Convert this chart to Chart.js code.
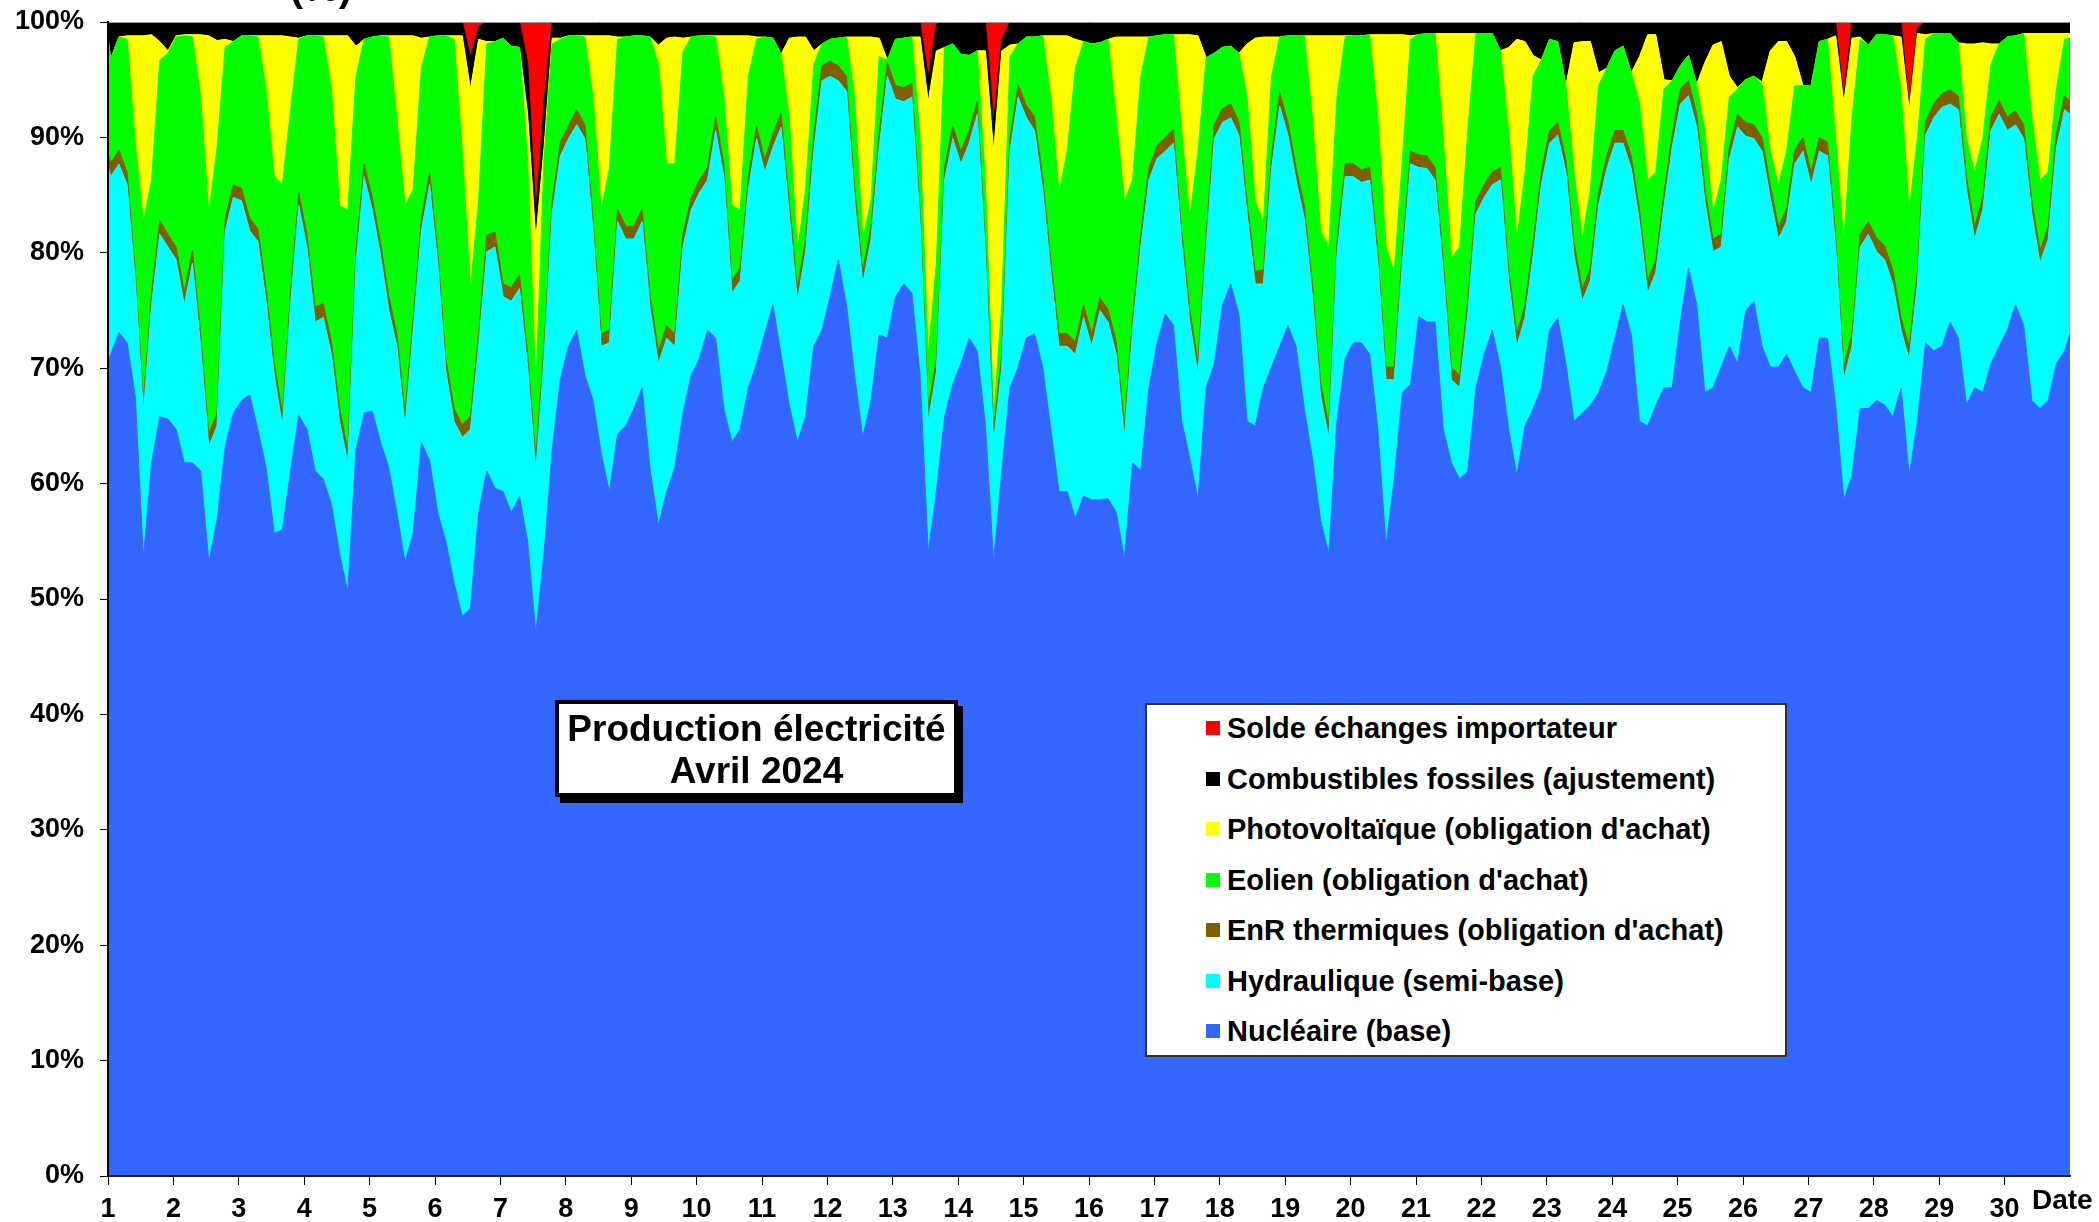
<!DOCTYPE html>
<html lang="fr">
<head>
<meta charset="UTF-8">
<title>Production électricité - Avril 2024</title>
<script src="https://cdn.jsdelivr.net/npm/chart.js@4.4.1/dist/chart.umd.min.js"></script>
<style>
    body { margin: 0; background: #fff; font-family: 'Liberation Sans', Arial, sans-serif; }
    #wrap { position: relative; width: 2099px; height: 1222px; overflow: hidden; }
    #c { position: absolute; left: 0; top: 0; }
    .txt { position: absolute; font-weight: bold; color: #000; white-space: nowrap; }
    #ytitle { font-size: 40px; line-height: 40px; right: 1747px; top: -33px; }
    #date { font-size: 28px; line-height: 28px; left: 2032px; top: 1186px; }
    #titlebox {
        position: absolute; left: 555px; top: 700px; width: 403px; height: 97px;
        box-sizing: border-box; border: 4px solid #000; background: #fff;
        box-shadow: 5px 6px 0 #000; text-align: center;
        font-weight: bold; font-size: 37px; line-height: 42px; padding-top: 4px;
    }
    #legend {
        position: absolute; left: 1145px; top: 703px; width: 642px; height: 354px;
        box-sizing: border-box; border: 2px solid #333; background: #fff;
    }
    .row { position: absolute; left: 1145px; height: 50px; line-height: 50px; font-size: 29px; font-weight: bold; white-space: nowrap; }
    .sq { position: absolute; width: 14px; height: 14px; }
</style>
</head>
<body>
<div id="wrap">
    <canvas id="c" width="2099" height="1222"></canvas>
    <div id="ytitle" class="txt">(%)</div>
    <div id="date" class="txt">Date</div>
    <div id="titlebox">Production électricité<br>Avril 2024</div>
    <div id="legend"></div>
</div>

<script>
// sample times: hour 0, then 8 readings a day (1h, 4h, ... 22h), then end of the month
var sampleHours = [1, 4, 7, 10, 13, 16, 19, 22];
var dayLabels = ['1','2','3','4','5','6','7','8','9','10','11','12','13','14','15','16','17','18','19','20','21','22','23','24','25','26','27','28','29','30'];
var yTickLabels = ['0%','10%','20%','30%','40%','50%','60%','70%','80%','90%','100%'];

// cumulative share (%) at the top of each band
var topNucleaire = [70.4,
    71.2, 73.1, 72.2, 67.6, 53.5, 61.8, 65.8, 65.6,
    64.7, 61.8, 61.8, 61.1, 53.2, 56.8, 63.2, 66.1,
    67.2, 67.7, 64.7, 61.4, 55.7, 56.0, 61.1, 65.9,
    64.7, 61.1, 60.4, 58.2, 53.9, 50.6, 62.9, 66.1,
    66.3, 63.6, 61.4, 57.5, 53.2, 55.7, 63.6, 62.0,
    57.5, 55.0, 51.4, 48.5, 49.2, 57.5, 61.1, 59.6,
    59.3, 57.5, 58.9, 55.0, 47.0, 53.9, 62.9, 69.0,
    71.9, 73.3, 69.4, 67.2, 62.6, 59.3, 64.3, 65.0,
    66.5, 68.3, 61.1, 56.4, 59.3, 61.4, 66.1, 69.4,
    70.8, 73.3, 72.6, 66.5, 63.6, 64.7, 68.3, 70.4,
    73.0, 75.5, 71.2, 66.8, 63.6, 65.8, 71.9, 73.3,
    76.2, 79.4, 75.5, 69.4, 64.0, 67.2, 72.9, 72.6,
    76.2, 77.3, 76.5, 69.4, 54.0, 59.3, 65.8, 68.6,
    70.4, 72.6, 71.5, 65.0, 53.2, 61.1, 68.3, 70.1,
    72.6, 73.0, 70.1, 64.7, 59.3, 59.3, 57.0, 58.9,
    58.6, 58.6, 58.7, 57.5, 53.5, 61.8, 61.1, 68.3,
    72.2, 74.7, 73.7, 65.4, 62.2, 58.6, 68.3, 70.4,
    75.5, 77.3, 74.7, 65.4, 65.0, 68.3, 70.1, 71.9,
    73.7, 71.9, 66.5, 62.2, 56.8, 53.9, 65.4, 70.8,
    72.2, 72.2, 71.2, 64.7, 54.6, 60.4, 67.9, 68.6,
    74.5, 74.0, 74.0, 64.7, 61.8, 60.4, 61.1, 68.3,
    71.2, 73.3, 70.1, 64.7, 60.7, 65.0, 66.5, 68.3,
    73.3, 74.4, 70.4, 65.4, 66.1, 66.8, 67.9, 69.7,
    72.6, 75.5, 72.9, 65.4, 65.0, 66.8, 68.3, 68.3,
    74.0, 78.7, 75.5, 67.9, 68.3, 70.1, 71.9, 70.4,
    75.0, 75.8, 71.9, 70.1, 70.1, 71.2, 69.7, 68.3,
    67.9, 72.6, 72.6, 66.8, 58.6, 60.7, 66.5, 66.5,
    67.2, 66.8, 65.8, 68.3, 60.7, 65.4, 72.2, 71.5,
    71.9, 74.0, 72.6, 66.8, 68.3, 67.9, 70.4, 71.9,
    73.3, 75.5, 73.7, 67.2, 66.5, 67.2, 70.4, 71.5,
    72.9];

var topHydraulique = [87.5,
    86.6, 87.7, 85.9, 77.6, 66.1, 75.5, 81.6, 80.5,
    79.4, 75.5, 79.1, 71.9, 63.2, 65.0, 81.9, 84.8,
    84.5, 81.9, 81.0, 75.8, 69.4, 65.0, 75.5, 84.1,
    80.5, 74.0, 74.4, 71.2, 65.4, 61.8, 79.1, 86.6,
    83.7, 79.8, 75.1, 71.9, 65.0, 73.3, 81.9, 85.9,
    79.1, 69.7, 65.4, 64.0, 64.7, 71.9, 80.1, 80.5,
    76.2, 75.8, 76.9, 70.1, 61.1, 70.8, 83.4, 88.4,
    89.9, 91.1, 89.9, 81.9, 71.9, 72.2, 82.7, 81.2,
    81.2, 82.7, 75.1, 70.4, 72.6, 71.9, 80.5, 83.7,
    85.2, 86.3, 90.6, 86.6, 76.5, 77.6, 85.5, 89.9,
    87.0, 89.1, 90.9, 83.4, 75.8, 80.1, 88.8, 94.9,
    95.3, 94.9, 94.0, 84.5, 77.3, 81.2, 89.1, 95.3,
    93.3, 93.1, 93.5, 82.7, 65.4, 69.7, 86.3, 89.9,
    87.7, 89.5, 92.0, 79.8, 63.6, 70.1, 88.8, 93.5,
    91.7, 90.6, 85.5, 78.3, 71.9, 71.9, 71.2, 74.4,
    71.9, 75.0, 74.0, 71.2, 64.0, 73.3, 80.5, 86.3,
    88.2, 88.8, 89.5, 80.9, 74.0, 69.4, 80.5, 89.9,
    91.3, 91.7, 90.2, 83.4, 77.3, 77.3, 87.3, 92.7,
    90.2, 86.3, 83.0, 76.2, 67.6, 64.0, 79.8, 86.6,
    86.6, 86.1, 86.3, 79.1, 69.0, 69.0, 79.1, 87.7,
    87.4, 87.3, 86.3, 78.3, 69.0, 68.3, 74.7, 83.4,
    84.8, 85.9, 86.3, 77.6, 71.9, 74.4, 79.8, 85.9,
    89.5, 90.2, 87.0, 79.8, 75.8, 77.6, 84.1, 87.3,
    89.5, 89.5, 87.3, 82.7, 76.5, 78.3, 84.1, 89.1,
    92.9, 93.6, 90.9, 84.5, 80.1, 80.5, 88.1, 90.9,
    90.1, 89.9, 88.8, 84.8, 81.2, 82.7, 87.7, 88.8,
    85.9, 88.8, 88.4, 80.5, 69.0, 71.9, 80.5, 81.6,
    80.1, 79.4, 77.3, 73.3, 70.8, 77.3, 90.2, 91.7,
    92.6, 92.9, 92.4, 85.5, 81.2, 83.7, 90.6, 92.0,
    90.6, 91.1, 89.9, 83.4, 79.1, 81.2, 89.1, 92.4,
    92.0];

var topEnrThermiques = [88.7,
    87.8, 88.9, 87.0, 78.6, 67.1, 76.6, 82.8, 81.6,
    80.5, 76.6, 80.2, 73.0, 64.3, 66.1, 83.0, 85.9,
    85.6, 83.0, 82.1, 76.9, 70.5, 66.1, 76.6, 85.2,
    81.6, 75.3, 75.6, 72.3, 66.5, 62.9, 80.2, 87.7,
    84.8, 80.9, 76.3, 73.0, 66.1, 74.4, 83.0, 87.0,
    80.2, 70.8, 66.5, 65.1, 65.8, 73.0, 81.5, 81.8,
    77.3, 77.0, 78.1, 71.2, 62.3, 71.9, 84.5, 89.6,
    91.0, 92.4, 91.1, 83.0, 73.0, 73.3, 83.8, 82.3,
    82.3, 83.8, 76.2, 71.5, 73.7, 73.0, 81.6, 84.8,
    86.3, 87.4, 91.8, 87.7, 77.6, 78.7, 86.6, 91.0,
    88.1, 90.3, 92.1, 84.5, 76.9, 81.2, 90.1, 96.2,
    96.6, 96.2, 95.3, 85.7, 78.4, 82.3, 90.3, 96.5,
    94.5, 94.3, 94.7, 83.8, 66.5, 70.8, 87.4, 91.0,
    88.8, 90.6, 93.1, 80.9, 64.7, 71.2, 89.9, 94.6,
    92.8, 91.8, 86.6, 79.4, 73.0, 73.0, 72.3, 75.5,
    73.0, 76.1, 75.1, 72.3, 65.1, 74.4, 81.6, 87.4,
    89.3, 90.0, 90.7, 82.0, 75.1, 70.5, 81.6, 91.1,
    92.5, 92.9, 91.4, 84.5, 78.4, 78.5, 88.5, 93.9,
    91.3, 87.4, 84.1, 77.3, 68.7, 65.1, 80.9, 87.7,
    87.7, 87.2, 87.4, 80.2, 70.1, 70.1, 80.2, 88.8,
    88.5, 88.4, 87.4, 79.4, 70.1, 69.4, 75.8, 84.5,
    85.9, 87.0, 87.4, 78.7, 73.0, 75.5, 80.9, 87.0,
    90.6, 91.3, 88.1, 80.9, 76.9, 78.7, 85.2, 88.4,
    90.6, 90.6, 88.4, 83.8, 77.6, 79.4, 85.2, 90.2,
    94.2, 94.9, 92.1, 85.6, 81.2, 81.6, 89.2, 92.0,
    91.3, 91.1, 90.0, 85.9, 82.3, 83.8, 88.9, 90.0,
    87.0, 90.0, 89.6, 81.6, 70.1, 73.0, 81.6, 82.7,
    81.3, 80.6, 78.5, 74.4, 71.9, 78.4, 91.4, 92.9,
    93.8, 94.1, 93.6, 86.6, 82.3, 84.8, 91.8, 93.2,
    91.8, 92.3, 91.1, 84.5, 80.2, 82.3, 90.3, 93.6,
    93.2];

var topEolien = [98.5,
    96.8, 98.7, 98.5, 89.5, 82.7, 86.3, 96.7, 97.3,
    98.7, 98.8, 98.7, 93.5, 83.4, 89.1, 97.8, 98.3,
    98.8, 98.8, 98.7, 94.2, 86.6, 85.9, 92.4, 98.5,
    98.8, 98.8, 98.7, 94.2, 84.1, 83.7, 95.3, 98.5,
    98.7, 98.8, 98.7, 91.7, 84.1, 85.5, 96.0, 98.7,
    98.8, 98.8, 98.5, 88.8, 76.9, 84.5, 98.1, 98.3,
    98.6, 97.9, 97.8, 88.0, 68.3, 88.0, 98.1, 98.5,
    98.8, 98.8, 98.7, 93.5, 83.7, 87.3, 98.5, 98.7,
    98.8, 98.8, 98.7, 96.3, 87.7, 87.7, 97.4, 98.7,
    98.8, 98.8, 98.7, 93.5, 84.1, 83.7, 95.3, 98.5,
    98.7, 98.6, 97.2, 91.7, 80.1, 85.5, 96.3, 98.1,
    98.5, 98.6, 98.7, 93.5, 81.2, 84.5, 97.0, 96.7,
    98.5, 98.6, 98.7, 89.9, 71.2, 79.1, 97.8, 98.1,
    97.2, 97.1, 97.5, 86.0, 65.8, 75.5, 97.0, 98.1,
    98.7, 98.7, 98.8, 93.5, 85.2, 88.8, 96.0, 98.3,
    98.1, 98.2, 98.5, 91.7, 84.5, 86.3, 95.3, 98.7,
    98.8, 98.9, 98.9, 90.6, 83.0, 88.8, 96.9, 97.3,
    97.8, 97.9, 97.3, 93.5, 84.5, 82.7, 95.3, 98.7,
    98.8, 98.8, 98.8, 91.7, 81.9, 80.5, 93.5, 98.7,
    98.8, 98.8, 98.9, 91.7, 80.5, 78.3, 88.1, 98.5,
    98.9, 99.0, 99.0, 89.9, 79.5, 80.5, 90.6, 99.0,
    99.0, 99.0, 97.5, 90.6, 81.2, 86.9, 95.3, 96.7,
    98.5, 98.3, 94.5, 87.0, 81.2, 85.5, 94.5, 96.0,
    97.5, 97.9, 95.6, 93.0, 86.3, 87.0, 94.2, 94.9,
    96.2, 97.1, 94.6, 90.6, 83.4, 86.3, 93.5, 94.2,
    95.0, 95.3, 94.6, 88.8, 85.9, 88.8, 94.5, 94.5,
    94.5, 98.3, 98.5, 89.9, 80.9, 91.7, 98.5, 98.0,
    98.9, 98.9, 98.8, 94.0, 83.7, 89.9, 98.5, 99.0,
    99.0, 99.0, 98.2, 89.9, 87.0, 89.9, 96.3, 98.1,
    98.7, 98.8, 99.0, 91.7, 86.3, 87.0, 94.2, 98.5,
    98.6];

var topPhotovoltaique = [98.6,
    96.8, 98.7, 98.8, 98.8, 98.8, 98.9, 98.3, 97.5,
    98.8, 98.9, 98.9, 98.9, 98.8, 98.4, 98.5, 98.3,
    98.8, 98.8, 98.8, 98.8, 98.8, 98.8, 98.7, 98.6,
    98.8, 98.8, 98.8, 98.8, 98.8, 98.8, 97.9, 98.5,
    98.7, 98.8, 98.8, 98.8, 98.8, 98.8, 98.6, 98.7,
    98.8, 98.8, 98.8, 98.8, 94.2, 98.5, 98.3, 98.3,
    98.6, 97.9, 97.8, 92.0, 81.2, 89.1, 98.6, 98.6,
    98.8, 98.8, 98.8, 98.8, 98.8, 98.8, 98.7, 98.7,
    98.8, 98.8, 98.7, 98.0, 98.6, 98.7, 98.6, 98.7,
    98.8, 98.8, 98.8, 98.8, 98.8, 98.8, 98.8, 98.7,
    98.7, 98.6, 97.2, 98.6, 98.7, 98.7, 97.5, 98.1,
    98.5, 98.6, 98.7, 98.7, 98.7, 98.7, 98.6, 96.7,
    98.5, 98.6, 98.7, 98.7, 93.1, 97.5, 97.8, 98.1,
    97.2, 97.1, 97.5, 97.5, 88.8, 97.5, 98.0, 98.1,
    98.7, 98.7, 98.8, 98.8, 98.8, 98.8, 98.5, 98.3,
    98.1, 98.2, 98.5, 98.7, 98.7, 98.7, 98.7, 98.7,
    98.8, 98.9, 98.9, 98.9, 98.9, 98.8, 96.9, 97.3,
    97.8, 97.9, 97.3, 98.1, 98.6, 98.7, 98.7, 98.7,
    98.8, 98.8, 98.8, 98.8, 98.8, 98.8, 98.8, 98.8,
    98.8, 98.8, 98.9, 98.9, 98.9, 98.9, 98.9, 98.8,
    98.9, 99.0, 99.0, 99.0, 99.0, 99.0, 99.0, 99.0,
    99.0, 99.0, 97.5, 97.8, 98.5, 98.3, 97.1, 96.7,
    98.5, 98.3, 94.5, 98.2, 98.3, 98.3, 95.6, 96.0,
    97.5, 97.9, 95.6, 97.0, 98.9, 98.9, 95.0, 94.9,
    96.2, 97.1, 94.6, 96.5, 98.0, 98.3, 95.3, 94.3,
    95.0, 95.3, 94.8, 97.5, 98.3, 98.3, 97.0, 94.5,
    94.5, 98.3, 98.5, 98.8, 93.0, 98.6, 98.7, 98.0,
    98.9, 98.9, 98.8, 98.7, 92.4, 99.0, 98.9, 99.0,
    99.0, 99.0, 98.2, 98.1, 98.1, 98.2, 98.1, 98.1,
    98.7, 98.8, 99.0, 99.0, 99.0, 99.0, 99.0, 99.0,
    99.0];

// above this line: net imports (red)
var topFossiles = [100,
    100, 100, 100, 100, 100, 100, 100, 100,
    100, 100, 100, 100, 100, 100, 100, 100,
    100, 100, 100, 100, 100, 100, 100, 100,
    100, 100, 100, 100, 100, 100, 100, 100,
    100, 100, 100, 100, 100, 100, 100, 100,
    100, 100, 100, 100, 97.0, 99.6, 100, 100,
    100, 100, 100, 96.5, 83.4, 93.0, 100, 100,
    100, 100, 100, 100, 100, 100, 100, 100,
    100, 100, 100, 100, 100, 100, 100, 100,
    100, 100, 100, 100, 100, 100, 100, 100,
    100, 100, 100, 100, 100, 100, 100, 100,
    100, 100, 100, 100, 100, 100, 100, 100,
    100, 100, 100, 100, 95.2, 99.8, 100, 100,
    100, 100, 100, 100, 91.3, 98.5, 100, 100,
    100, 100, 100, 100, 100, 100, 100, 100,
    100, 100, 100, 100, 100, 100, 100, 100,
    100, 100, 100, 100, 100, 100, 100, 100,
    100, 100, 100, 100, 100, 100, 100, 100,
    100, 100, 100, 100, 100, 100, 100, 100,
    100, 100, 100, 100, 100, 100, 100, 100,
    100, 100, 100, 100, 100, 100, 100, 100,
    100, 100, 100, 100, 100, 100, 100, 100,
    100, 100, 100, 100, 100, 100, 100, 100,
    100, 100, 100, 100, 100, 100, 100, 100,
    100, 100, 100, 100, 100, 100, 100, 100,
    100, 100, 100, 100, 100, 100, 100, 100,
    100, 100, 100, 100, 93.5, 100, 100, 100,
    100, 100, 100, 100, 92.7, 99.5, 100, 100,
    100, 100, 100, 100, 100, 100, 100, 100,
    100, 100, 100, 100, 100, 100, 100, 100,
    100];

var legendLabels = ['Solde échanges importateur', 'Combustibles fossiles (ajustement)', "Photovoltaïque (obligation d'achat)",
    "Eolien (obligation d'achat)", "EnR thermiques (obligation d'achat)", 'Hydraulique (semi-base)', 'Nucléaire (base)'];
var legendColors = ['#ff0000', '#000000', '#ffff00', '#00ff00', '#7f6000', '#00ffff', '#3366ff'];

// time axis in hours from 1 April 00:00
var hours = [0];
for (var d = 0; d < 30; d++) {
    for (var k = 0; k < sampleHours.length; k++) hours.push(d * 24 + sampleHours[k]);
}
hours.push(720);

function band(label, data, color, fill, bw) {
    return {
        label: label, data: data, fill: fill,
        backgroundColor: color, borderColor: color, borderWidth: bw,
        pointRadius: 0, tension: 0
    };
}

Chart.defaults.font.family = "'Liberation Sans', Arial, sans-serif";
Chart.defaults.font.weight = 'bold';
Chart.defaults.color = '#000';

new Chart(document.getElementById('c'), {
    type: 'line',
    data: {
        labels: hours,
        datasets: [
            band(legendLabels[6], topNucleaire, '#3366ff', 'origin', 1),
            band(legendLabels[5], topHydraulique, '#00ffff', '-1', 1),
            band(legendLabels[4], topEnrThermiques, '#7f6000', '-1', 1),
            band(legendLabels[3], topEolien, '#00ff00', '-1', 1),
            band(legendLabels[2], topPhotovoltaique, '#ffff00', '-1', 1),
            band(legendLabels[1], topFossiles, '#000000', '-1', 1),
            band(legendLabels[0], topFossiles, '#ff0000', 'end', 0)
        ]
    },
    options: {
        responsive: false,
        devicePixelRatio: 1,
        animation: false,
        layout: { padding: { top: 22, right: 29, left: 0, bottom: 0 } },
        plugins: { legend: { display: false }, tooltip: { enabled: false } },
        scales: {
            x: {
                type: 'linear', min: 0, max: 720,
                afterBuildTicks: function (s) { s.ticks = dayLabels.map(function (_, i) { return { value: i * 24 }; }); },
                afterFit: function (s) { s.height = 46; s.paddingLeft = 0; s.paddingRight = 0; },
                grid: { drawOnChartArea: false, tickLength: 9, color: '#000', z: 1 },
                border: { color: '#222', width: 2, z: 1 },
                ticks: {
                    autoSkip: false, maxRotation: 0, padding: 8,
                    font: { size: 27, weight: 'bold' }, color: '#000',
                    callback: function (v, i) { return dayLabels[i]; }
                }
            },
            y: {
                min: 0, max: 100,
                afterFit: function (s) { s.width = 108; s.paddingTop = 0; s.paddingBottom = 0; },
                grid: {
                    drawOnChartArea: true, tickLength: 8, tickColor: '#000', z: 1,
                    color: function (ctx) { return ctx.tick && ctx.tick.value === 100 ? '#9a9a9a' : 'rgba(0,0,0,0)'; }
                },
                border: { color: '#000', width: 2, z: 1 },
                ticks: {
                    stepSize: 10, padding: 16,
                    font: { size: 27, weight: 'bold' }, color: '#000',
                    callback: function (v, i) { return yTickLabels[i]; }
                }
            }
        }
    }
});

// legend box (same order as the original: top band first)
var wrap = document.getElementById('wrap');
legendLabels.forEach(function (name, i) {
    var cy = 728 + i * 50.5;
    var sq = document.createElement('div');
    sq.className = 'sq';
    sq.style.left = '1206px';
    sq.style.top = (cy - 7) + 'px';
    sq.style.background = legendColors[i];
    wrap.appendChild(sq);
    var row = document.createElement('div');
    row.className = 'row';
    row.style.left = '1227px';
    row.style.top = (cy - 25) + 'px';
    row.textContent = name;
    wrap.appendChild(row);
});
</script>
</body>
</html>
